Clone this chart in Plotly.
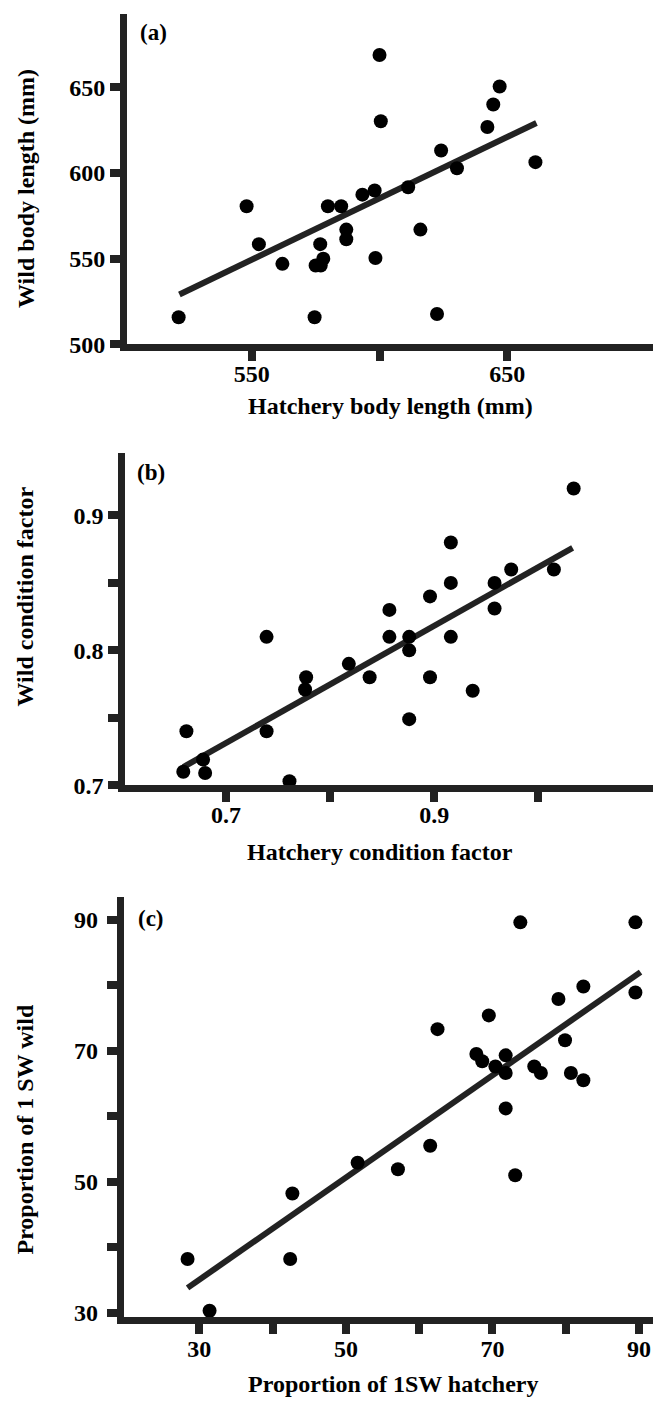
import plotly.graph_objects as go

# ---------------- data ----------------
# (a) body length (mm)
hatchery_length = [521.4, 548.0, 552.8, 562.0, 574.6, 575.0, 577.0, 578.0, 576.8,
                   579.8, 585.0, 587.0, 587.0, 593.3, 598.1, 598.4, 600.0, 600.5,
                   611.2, 616.0, 622.5, 624.1, 630.3, 642.2, 644.5, 647.0, 661.0]
wild_length = [515.8, 580.6, 558.5, 547.0, 515.8, 546.0, 546.0, 550.0, 558.5,
               580.6, 580.6, 567.0, 561.4, 587.4, 589.8, 550.4, 669.0, 630.3,
               591.7, 567.0, 517.7, 613.2, 602.8, 626.9, 640.1, 650.6, 606.4]
fit_a_x = [521.7, 661.4]
fit_a_y = [529.1, 629.3]

# (b) condition factor
hatchery_cf = [0.659, 0.662, 0.680, 0.678, 0.739, 0.739, 0.761, 0.777, 0.776,
               0.818, 0.838, 0.857, 0.857, 0.876, 0.876, 0.876, 0.896, 0.896,
               0.916, 0.916, 0.916, 0.937, 0.958, 0.958, 0.974, 1.015, 1.034]
wild_cf = [0.710, 0.740, 0.709, 0.719, 0.810, 0.740, 0.703, 0.780, 0.771,
           0.790, 0.780, 0.830, 0.810, 0.810, 0.800, 0.749, 0.840, 0.780,
           0.880, 0.850, 0.810, 0.770, 0.850, 0.831, 0.860, 0.860, 0.920]
fit_b_x = [0.659, 1.033]
fit_b_y = [0.7135, 0.876]

# (c) proportion of 1SW
hatchery_1sw = [28.4, 31.4, 42.4, 42.7, 51.6, 57.1, 61.5, 62.5, 67.8, 68.6,
                69.5, 70.4, 71.8, 71.8, 71.8, 73.1, 73.8, 75.7, 76.6, 79.0,
                79.9, 80.7, 82.4, 82.4, 89.5, 89.5]
wild_1sw = [38.2, 30.3, 38.2, 48.2, 52.9, 51.9, 55.5, 73.3, 69.5, 68.4,
            75.4, 67.6, 69.3, 66.6, 61.2, 51.0, 89.6, 67.6, 66.6, 77.9,
            71.6, 66.6, 79.8, 65.5, 89.6, 78.9]
fit_c_x = [28.4, 90.2]
fit_c_y = [33.8, 82.0]

# tick labels
a_xticks = [550, 600, 650]
a_xtext = ["550", "", "650"]
a_yticks = [500, 550, 600, 650]
a_ytext = ["500", "550", "600", "650"]
b_xticks = [0.7, 0.8, 0.9, 1.0]
b_xtext = ["0.7", "", "0.9", ""]
b_yticks = [0.7, 0.75, 0.8, 0.85, 0.9]
b_ytext = ["0.7", "", "0.8", "", "0.9"]
c_ticks = [30, 40, 50, 60, 70, 80, 90]
c_text = ["30", "", "50", "", "70", "", "90"]

# ---------------- figure ----------------
W, H = 653, 1414
FONT = "Liberation Serif"
LINE = "#222222"

def px_x(p):
    return p / W

def px_y(p):
    return 1 - p / H

fig = go.Figure()

def add_panel(idx, xs, ys, fx, fy):
    sx = "" if idx == 1 else str(idx)
    fig.add_trace(go.Scatter(x=fx, y=fy, mode="lines",
                             line=dict(color=LINE, width=6),
                             xaxis="x" + sx, yaxis="y" + sx, showlegend=False,
                             hoverinfo="skip"))
    fig.add_trace(go.Scatter(x=xs, y=ys, mode="markers",
                             marker=dict(color="black", size=14, line=dict(width=0)),
                             xaxis="x" + sx, yaxis="y" + sx, showlegend=False))

add_panel(1, hatchery_length, wild_length, fit_a_x, fit_a_y)
add_panel(2, hatchery_cf, wild_cf, fit_b_x, fit_b_y)
add_panel(3, hatchery_1sw, wild_1sw, fit_c_x, fit_c_y)

tickfont = dict(family=FONT, size=24, color="black", weight="bold")

def axis_style(**kw):
    d = dict(showline=True, linewidth=7, linecolor=LINE, ticks="outside",
             ticklen=10, tickwidth=8, tickcolor=LINE, showgrid=False,
             zeroline=False, tickfont=tickfont, tickmode="array", fixedrange=True)
    d.update(kw)
    return d

fig.update_layout(
    width=W, height=H, autosize=False,
    margin=dict(l=0, r=0, t=0, b=0),
    paper_bgcolor="white", plot_bgcolor="white",
    font=dict(family=FONT, size=24, color="black"),
    xaxis=axis_style(domain=[px_x(127), 1], range=[501.2, 707.0], anchor="y",
                     tickvals=a_xticks, ticktext=a_xtext, ticklabelstandoff=-8),
    yaxis=axis_style(domain=[px_y(347.5), px_y(14)], range=[500, 693.0], anchor="x",
                     tickvals=a_yticks, ticktext=a_ytext),
    xaxis2=axis_style(domain=[px_x(125.2), 1], range=[0.6032, 1.1102], anchor="y2",
                      tickvals=b_xticks, ticktext=b_xtext, ticklabelstandoff=-8),
    yaxis2=axis_style(domain=[px_y(792.5), px_y(456.7)], range=[0.7, 0.9467], anchor="x2",
                      tickvals=b_yticks, ticktext=b_ytext),
    xaxis3=axis_style(domain=[px_x(123.8), 1], range=[19.7, 91.9], anchor="y3",
                      tickvals=c_ticks, ticktext=c_text, ticklabelstandoff=-6),
    yaxis3=axis_style(domain=[px_y(1329.2), px_y(905)], range=[29.36, 93.52], anchor="x3",
                      tickvals=c_ticks, ticktext=c_text, ticklabelstandoff=4),
)

def note(text, x, y, angle=0, size=24):
    fig.add_annotation(text=text, x=px_x(x), y=px_y(y), xref="paper", yref="paper",
                       showarrow=False, textangle=angle, xanchor="center",
                       yanchor="middle",
                       font=dict(family=FONT, size=size, color="black", weight="bold"))

note("Hatchery body length (mm)", 390, 410)
note("Wild body length (mm)", 26.7, 190, angle=-90)
note("(a)", 153, 33, size=23)
note("Hatchery condition factor", 380, 860)
note("Wild condition factor", 25, 602, angle=-90)
note("(b)", 150.5, 476.7, size=23)
note("Proportion of 1SW hatchery", 393.3, 1397)
note("Proportion of 1 SW wild", 25, 1140, angle=-90)
note("(c)", 150.5, 927.5, size=23)

fig.write_html("out.html", config=dict(displayModeBar=False),
               post_script="document.body.style.margin='0px';"
                           "document.body.style.overflow='hidden';")
